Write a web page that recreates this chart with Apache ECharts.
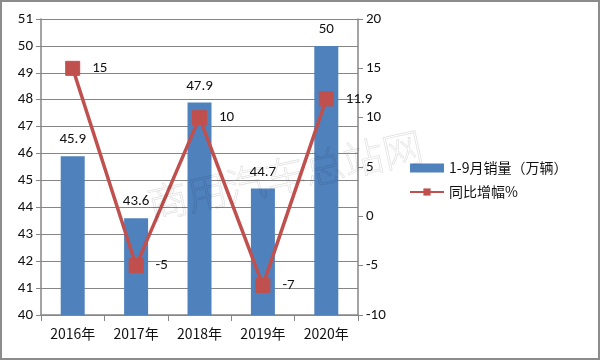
<!DOCTYPE html>
<html><head><meta charset="utf-8">
<script src="https://cdn.jsdelivr.net/npm/echarts@6/dist/echarts.min.js"></script>
<style>html,body{margin:0;padding:0;background:#fff}#c{width:600px;height:360px;box-sizing:border-box;border:2px solid #8c8c8c}</style>
</head><body><div id="c"></div>
<script>
const categories = ['2016年','2017年','2018年','2019年','2020年'];
const sales = [45.9, 43.6, 47.9, 44.7, 50];
const growth = [15, -5, 10, -7, 11.9];
const seriesNames = ['1-9月销量（万辆）','同比增幅%'];
const watermark = '商用汽车总站网';

const chart = echarts.init(document.getElementById('c'), null, {renderer:'canvas'});
const font = 'Calibri, Carlito, "Liberation Sans", "Noto Sans CJK SC", sans-serif';
const cjk = '"Noto Sans CJK SC", sans-serif';
const axisCol = '#868686';
chart.setOption({
  animation:false,
  textStyle:{fontFamily:font},
  grid:{left:39,right:240,top:17,bottom:43},
  legend:{
    orient:'vertical', left:402, top:154, itemGap:10,
    itemWidth:34, itemHeight:9,
    textStyle:{fontSize:14,color:'#111',fontFamily:cjk},
    data:[{name:seriesNames[0],icon:'rect'},{name:seriesNames[1]}]
  },
  xAxis:{type:'category',data:categories,
    axisLine:{onZero:false,lineStyle:{color:axisCol,width:1.5}},
    axisTick:{show:true,length:6,lineStyle:{color:axisCol},alignWithLabel:false},
    axisLabel:{fontSize:14,color:'#111',margin:12,fontFamily:cjk}},
  yAxis:[
    {type:'value',min:40,max:51,interval:1,
      axisLine:{show:true,lineStyle:{color:axisCol,width:1.5}},
      axisTick:{show:true,length:5,lineStyle:{color:axisCol}},
      splitLine:{lineStyle:{color:axisCol,width:1.2}},
      axisLabel:{fontSize:15,color:'#111',margin:8}},
    {type:'value',min:-10,max:20,interval:5,position:'right',
      axisLine:{show:true,lineStyle:{color:axisCol,width:1.5}},
      axisTick:{show:true,length:5,lineStyle:{color:axisCol}},
      splitLine:{show:false},
      axisLabel:{fontSize:15,color:'#111',margin:8}}
  ],
  series:[
    {name:seriesNames[0],type:'bar',data:sales,barWidth:24,yAxisIndex:0,
      itemStyle:{color:'#4F81BD'},
      label:{show:true,position:'top',distance:9,fontSize:15,color:'#111'}},
    {name:seriesNames[1],type:'line',data:growth,yAxisIndex:1,
      symbol:'rect',symbolSize:14,
      lineStyle:{color:'#C0504D',width:3.5},
      itemStyle:{color:'#C0504D',borderColor:'#C0504D'},
      label:{show:true,position:'right',distance:12,fontSize:15,color:'#111'},
      z:5}
  ],
  graphic:[{type:'text',x:283,y:173,rotation:0.216,z:10,silent:true,
    style:{text:watermark,fontSize:40,fontFamily:cjk,fontWeight:200,
      fill:'rgba(0,0,0,0)',stroke:'rgba(0,0,0,0.12)',lineWidth:0.8,
      textAlign:'center',textVerticalAlign:'middle',letterSpacing:5}}]
});
</script></body></html>
